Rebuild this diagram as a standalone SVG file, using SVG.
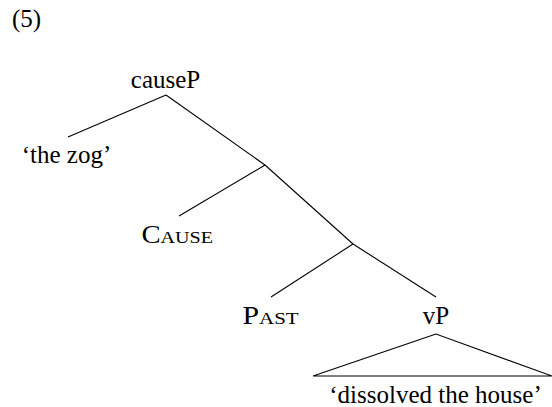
<svg xmlns="http://www.w3.org/2000/svg" width="552" height="407" viewBox="0 0 552 407">
<style>
text{font-family:"Liberation Serif","Times New Roman",serif;font-size:25px;fill:#000}
.m{text-anchor:middle}
.sc{font-size:17.5px}
line,polygon{stroke:#000;stroke-width:1.1;fill:none}
</style>
<rect width="552" height="407" fill="#fff"/>
<text x="12" y="27">(5)</text>
<g id="connectors">
<line x1="166" y1="95" x2="68" y2="137"/>
<line x1="166" y1="95" x2="265" y2="165"/>
<line x1="265" y1="165" x2="179" y2="216"/>
<line x1="265" y1="165" x2="353" y2="244"/>
<line x1="353" y1="244" x2="271" y2="297"/>
<line x1="353" y1="244" x2="436" y2="297"/>
</g>
<g id="causeP"><text class="m" x="165.5" y="87.5">causeP</text></g>
<g id="thezog"><text class="m" x="66.5" y="163">‘the zog’</text></g>
<g id="Cause"><text x="141.5" y="243" textLength="71.5" lengthAdjust="spacingAndGlyphs">C<tspan class="sc">AUSE</tspan></text></g>
<g id="Past"><text x="242.5" y="323.5" textLength="56" lengthAdjust="spacingAndGlyphs">P<tspan class="sc">AST</tspan></text></g>
<g id="vP"><text class="m" x="436" y="323.5">vP</text></g>
<g id="vP-tri">
<polygon points="436,334 313,376 552,376"/>
<text class="m" x="435.5" y="403">‘dissolved the house’</text>
</g>
</svg>
